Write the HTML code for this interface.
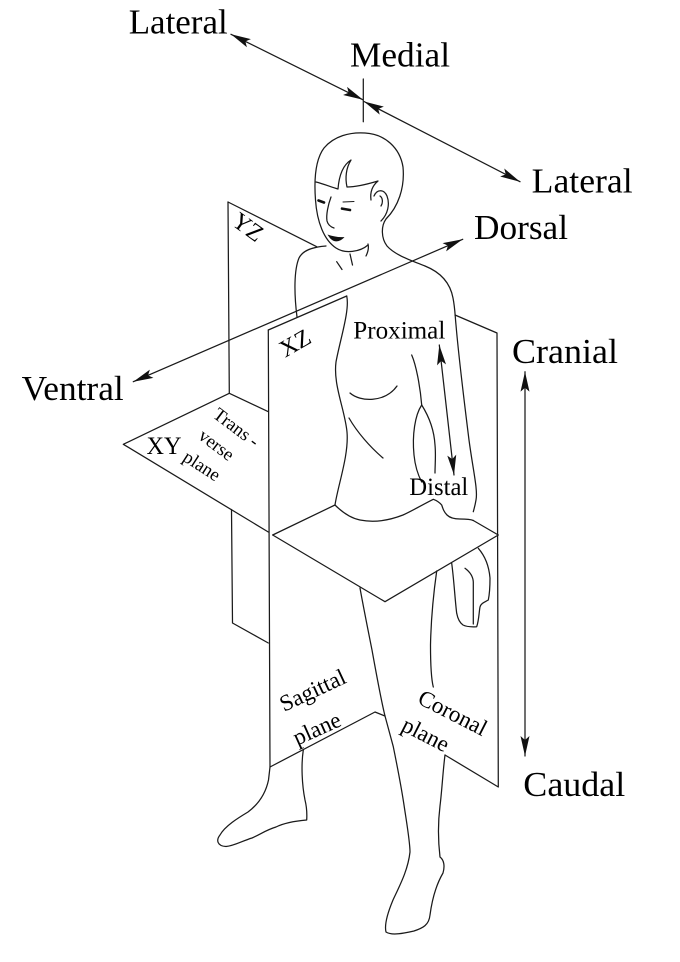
<!DOCTYPE html>
<html><head><meta charset="utf-8"><style>
html,body{margin:0;padding:0;background:#fff;}
svg{display:block;}
text{font-family:"Liberation Serif","Times New Roman",serif;fill:#000;}
</style></head><body>
<svg width="680" height="962" viewBox="0 0 680 962" xmlns="http://www.w3.org/2000/svg">
<defs>
<marker id="a" viewBox="0 0 20 10" refX="20" refY="5" markerWidth="20" markerHeight="10" markerUnits="userSpaceOnUse" orient="auto-start-reverse">
<path d="M0,0.5 L20,5 L0,9.5 L4,5 Z" fill="#111"/>
</marker>
</defs>
<g fill="none" stroke="#1a1a1a" stroke-width="1.25" stroke-linejoin="round" stroke-linecap="round">
<!-- arrows -->
<line x1="231" y1="34.3" x2="363" y2="99.8" marker-start="url(#a)" marker-end="url(#a)"/>
<line x1="364" y1="101.5" x2="520" y2="181.7" marker-start="url(#a)" marker-end="url(#a)"/>
<line x1="363.3" y1="79" x2="363.3" y2="121.7"/>
<line x1="133.3" y1="381.7" x2="462.7" y2="239.3" marker-start="url(#a)" marker-end="url(#a)"/>
<line x1="525" y1="371.7" x2="525" y2="756" marker-start="url(#a)" marker-end="url(#a)"/>
<line x1="439.3" y1="345" x2="454" y2="475" marker-start="url(#a)" marker-end="url(#a)"/>

<!-- YZ plane -->
<path d="M228,202 L316.7,246.7"/>
<path d="M228,202 L229.3,393.3 L268.3,411.7"/>
<path d="M231.5,509.5 L232.5,623 L268.3,643"/>
<!-- transverse plane -->
<path d="M268.3,532 L123.3,444.3 L229.3,393.3"/>
<path d="M272.7,535 L385,601.7 L498.3,535 L473.3,520.5"/>
<path d="M272.7,535 L335,505"/>
<!-- XZ / sagittal plane -->
<path d="M268.3,330 L346.7,296"/>
<path d="M268.3,330 L270,767 L375,712 L385,716"/>
<!-- coronal plane -->
<path d="M455,315 L497,333 L498.3,787 L445,755"/>

<!-- torso left outline -->
<path d="M346.7,296 C350,310 340,340 336,362 C333,385 345,410 347,432 C349,455 338,485 335,505"/>
<!-- waist / wrist -->
<path d="M335,505 C342,512 350,518 360,520 C370,522 385,522 403,515 C412,511 420,506 433.3,499.3 C438,501 440,503 441.7,505 C443,509 444,512 447,515 C450,518 455,519 460,519 C465,519 470,519 473.3,520.5"/>
<!-- head outline + neck back + arm outer -->
<path d="M368,245 C360,252 345,254 336,248 C324,240 317,222 315.5,200 C314,180 315,160 324,148 C334,136 350,132 365,133 C385,134 400,148 403,167 C405,188 398,207 386,219 C381,226 381,238 387,246 C395,255 410,260 425,266 C440,272 450,282 453,298 C455,308 455,315 456,325 C459,360 464,400 469,440 C473,470 478,490 476,500 C475,506 474,509 473.3,511.7"/>
<!-- hair -->
<path d="M316,182 C324,184 331,187 338,189 C339,176 343,165 351,160 C346,168 345,178 347,187 C357,187 368,184 378,181 C372,186 370,193 371,200"/>
<!-- ear -->
<path d="M374,196 C377,189 384,189 387,196 C390,204 388,214 381,221"/>
<path d="M380,196 C383,198 383,203 381,206"/>
<!-- nose -->
<path d="M331,197 C328,205 326,215 327,221 C328,225 331,227 334,228"/>
<path d="M343,202 L354,201.5" stroke-width="1"/>
<!-- neck lines -->
<path d="M336.7,261.7 L342,269.5"/>
<path d="M350,254 L352.5,265"/>
<path d="M368,244 C369,248 368,252 366,256"/>
<!-- left shoulder -->
<path d="M326,246 C313,247 303,250 299,258 C294,270 294,293 297,317"/>
<!-- chest, abdomen -->
<path d="M350,393 C360,402 385,403 397,386"/>
<path d="M349,418 C357,432 370,447 383,458"/>
<!-- inner arm lines -->
<path d="M411.7,355 C416,365 420,385 421.7,405 C428,415 434,428 435,445 C436,455 435,465 435,473"/>
<path d="M421.7,405 C415,415 412,435 414,455 C415,465 418,475 421.7,482"/>
<!-- hand -->
<path d="M451.7,563.3 C454,580 455,600 456.7,613.3 C458,620 460,623 463,625 C467,627 472,627 476.7,626.7 C479,620 479,612 480,607 C481,603 485,602 488.3,600 C490,592 490,585 490,578 C489,566 485,556 478.3,548.3"/>
<path d="M465,568.3 C470,572 473,576 473.3,582 L473.3,624"/>
<!-- front leg -->
<path d="M360,588 C363,605 368,630 372,650 C376,672 381,700 385,716 C388,727 391,738 393.3,746.7 C397,765 401,785 404,805 C407,825 410,842 410,852 C408,870 400,885 393,900 C388,912 384,924 386,932 C392,936 405,933 414,931 C423,928 429,925 430,915 C432,900 436,885 443,873 C445,866 444,860 440,857 C438,840 438,822 440,806 C442,790 443,770 445,755"/>
<!-- inner leg line -->
<path d="M436.7,571 C434,590 431,620 430.5,645 C430.5,663 431,678 433.3,687"/>
<!-- back foot -->
<path d="M303.3,750 C301,765 302,785 305,800 C307,808 307,815 306.7,820 C295,821 284,823 276,827 C266,830 261,834 252,838 C242,841 234,846 226,846.5 C217,846 216,840 220,835 C225,826 238,818 248,812 C260,803 266,792 268.5,780 L270,767"/>
</g>
<!-- eyes and mouth -->
<g stroke="#111" stroke-width="2.6" stroke-linecap="round">
<line x1="318.5" y1="200.5" x2="324" y2="202.5"/>
<line x1="342" y1="208.6" x2="350" y2="210"/>
</g>
<path d="M327.5,234.5 C333,236.5 339,237.5 344.5,237 C341,241 337,242 334,241 C331,240 329,237 327.5,234.5 Z" fill="#111"/>

<!-- big labels -->
<text x="128.7" y="33.5" font-size="35" textLength="99" lengthAdjust="spacingAndGlyphs">Lateral</text>
<text x="350" y="66.7" font-size="35" textLength="100" lengthAdjust="spacingAndGlyphs">Medial</text>
<text x="531.7" y="192.7" font-size="35" textLength="101" lengthAdjust="spacingAndGlyphs">Lateral</text>
<text x="474" y="239" font-size="35" textLength="94" lengthAdjust="spacingAndGlyphs">Dorsal</text>
<text x="21.7" y="400" font-size="35" textLength="102" lengthAdjust="spacingAndGlyphs">Ventral</text>
<text x="512" y="363" font-size="35" textLength="106" lengthAdjust="spacingAndGlyphs">Cranial</text>
<text x="523.3" y="796" font-size="35" textLength="102" lengthAdjust="spacingAndGlyphs">Caudal</text>
<text x="353.3" y="338.3" font-size="25" textLength="92" lengthAdjust="spacingAndGlyphs">Proximal</text>
<text x="409.3" y="495" font-size="25" textLength="59" lengthAdjust="spacingAndGlyphs">Distal</text>
<text x="146.5" y="454" font-size="25" textLength="35" lengthAdjust="spacingAndGlyphs">XY</text>

<!-- rotated labels -->
<text transform="translate(248,227) rotate(36)" text-anchor="middle" y="8" font-size="24">YZ</text>
<text transform="translate(295,343) rotate(-30)" text-anchor="middle" y="8" font-size="24">XZ</text>
<text transform="translate(236.3,427.5) rotate(37)" text-anchor="middle" y="6" font-size="18.5">Trans -</text>
<text transform="translate(215.8,445.8) rotate(37)" text-anchor="middle" y="5" font-size="18.5">verse</text>
<text transform="translate(201.3,466.7) rotate(33)" text-anchor="middle" y="5" font-size="18.5">plane</text>
<text transform="translate(313.3,691.7) rotate(-25)" text-anchor="middle" y="6" font-size="23">Sagittal</text>
<text transform="translate(317.5,730) rotate(-24)" text-anchor="middle" y="6" font-size="23">plane</text>
<text transform="translate(452.5,713.3) rotate(27)" text-anchor="middle" y="7" font-size="23">Coronal</text>
<text transform="translate(425,735.8) rotate(27)" text-anchor="middle" y="6" font-size="23">plane</text>
</svg>
</body></html>
